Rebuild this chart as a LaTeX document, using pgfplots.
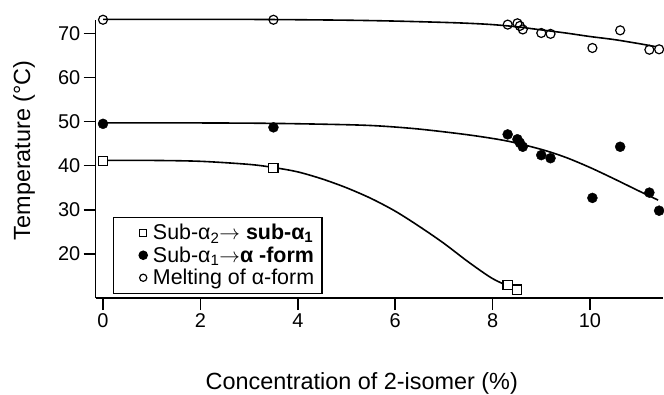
\documentclass[border=0pt]{standalone}
\usepackage{fontspec}
\setmainfont{Liberation Sans}
\usepackage{pgfplots}
\pgfplotsset{compat=1.18}
\begin{document}
\begin{tikzpicture}[x=1bp,y=1bp]
\useasboundingbox (0,0) rectangle (664,394);
\begin{axis}[
  at={(95.7bp,96bp)}, anchor=south west,
  scale only axis, width=567.3bp, height=277.8bp,
  xmin=-0.15, xmax=11.5, ymin=10, ymax=73,
  axis x line=bottom, axis y line=left,
  axis line style={-, line width=1.5bp},
  tick align=outside, major tick length=12bp,
  tick style={line width=1.5bp, black},
  xtick={0,2,...,10}, ytick={20,30,...,70},
  minor tick num=0,
  /pgf/number format/assume math mode=true,
  ticklabel style={font=\fontsize{20}{24}\selectfont},
  clip=false,
  xlabel={Concentration of 2-isomer (\%)},
  ylabel={Temperature (°C)},
  label style={font=\fontsize{23.5}{28}\selectfont},
  xlabel style={at={(rel axis cs:0.469,-0.306)}, anchor=center},
  ylabel style={at={(rel axis cs:-0.1264,0.532)}, anchor=center},
  legend style={at={(rel axis cs:0.030,0.0144)}, anchor=south west,
    draw=black, line width=1.5bp, font=\fontsize{21.5}{23}\selectfont,
    inner xsep=6bp, inner ysep=5bp, row sep=1.5bp,
    cells={anchor=west}},
  legend cell align=left,
  legend image code/.code={\draw[#1] plot coordinates {(0bp,0bp)};
    \path (-23bp,0bp) (7bp,0bp);},
]
% fitted curves
\addplot[forget plot, smooth, line width=1.6bp] coordinates {
 (0,73.2) (2,73.2) (3.5,73.15) (5,73.0) (6,72.8) (7,72.5) (7.5,72.3) (8,72.0)
 (8.5,71.5) (9,70.8) (9.5,70.1) (10,69.3) (10.5,68.6) (11,67.7) (11.35,67.0)};
\addplot[forget plot, smooth, line width=1.6bp] coordinates {
 (0,49.7) (2,49.7) (3.5,49.6) (5,49.3) (5.7,49.0) (6.5,48.3) (7.5,47.0) (8.3,45.6)
 (9,43.7) (9.5,41.9) (10,39.6) (10.5,37.0) (11,34.3) (11.4,32.2)};
\addplot[forget plot, smooth, line width=1.6bp] coordinates {
 (0,41.2) (1,41.2) (2,41.0) (3,40.3) (3.5,39.6) (4,38.6) (4.5,37.0) (5,35.0)
 (5.5,32.6) (6,29.7) (6.5,26.2) (7,22.4) (7.5,18.2) (8,14.4) (8.45,12.1)};
% data
\addplot[only marks, mark=square*, mark size=4.6bp,
  mark options={line width=1.2bp, draw=black, fill=white},
  legend image post style={mark size=3.6bp}] coordinates {
 (0,41.1) (3.5,39.5) (8.31,12.9) (8.5,11.9)};
\addlegendentry{Sub-α\textsubscript{2}$\rightarrow$ \textbf{sub-α\textsubscript{1}}}
\addplot[only marks, mark=*, mark size=5bp,
  mark options={draw=black, fill=black},
  legend image post style={mark size=4bp}] coordinates {
 (0,49.5) (3.5,48.7) (8.31,47.1) (8.51,46.0) (8.56,45.2) (8.62,44.3)
 (9.0,42.4) (9.19,41.7) (10.05,32.7) (10.62,44.3) (11.22,33.9) (11.42,29.8)};
\addlegendentry{Sub-α\textsubscript{1}$\rightarrow$\textbf{α -form}}
\addplot[only marks, mark=o, mark size=4.5bp,
  mark options={line width=1.2bp, draw=black},
  legend image post style={mark size=3.6bp}] coordinates {
 (0,73.1) (3.5,73.1) (8.31,72.0) (8.51,72.3) (8.56,71.7) (8.62,70.9)
 (9.0,70.1) (9.19,69.9) (10.05,66.7) (10.62,70.7) (11.22,66.3) (11.42,66.4)};
\addlegendentry{Melting of α-form}
\end{axis}
\end{tikzpicture}
\end{document}
